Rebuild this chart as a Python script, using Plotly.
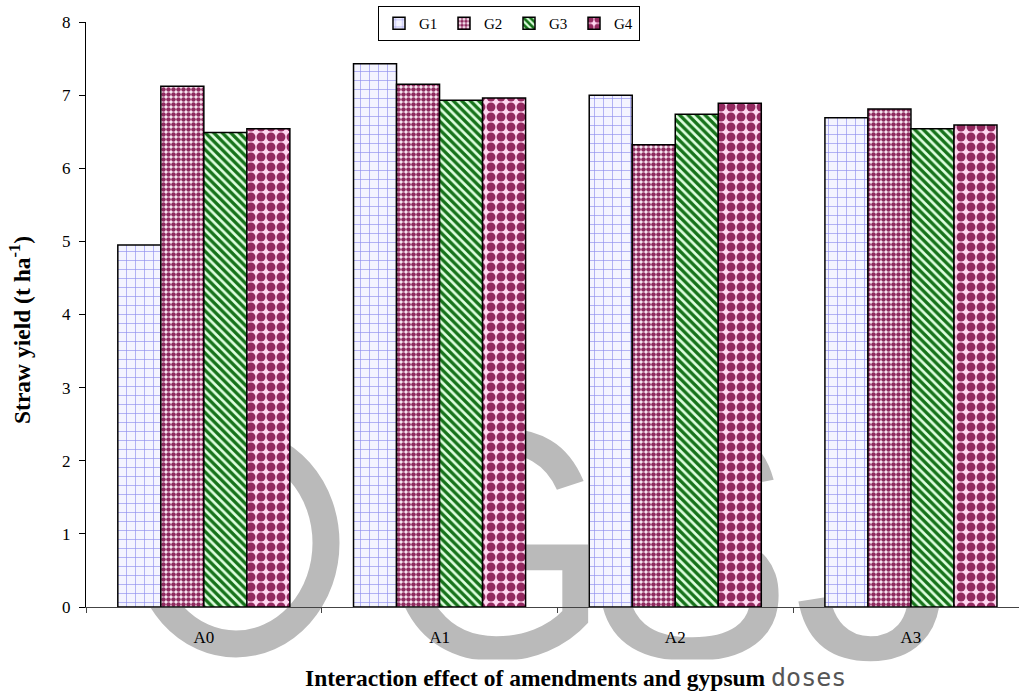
import base64
import plotly.graph_objects as go

# Interaction of amendments (A0-A3) and gypsum doses (G1-G4) on straw yield
amendments = ["A0", "A1", "A2", "A3"]
g1 = [4.95, 7.43, 7.00, 6.69]
g2 = [7.12, 7.15, 6.32, 6.81]
g3 = [6.49, 6.93, 6.74, 6.54]
g4 = [6.54, 6.96, 6.89, 6.59]
y_ticks = [0, 1, 2, 3, 4, 5, 6, 7, 8]

W, H = 1019, 694
L, R, T, B = 86, 0, 22, 87
plot_w = W - L - R
plot_h = H - T - B

SERIF = "Liberation Serif, Times New Roman, serif"

series = [
    ("G1", g1, "#f4f4ff", dict(shape="+", fgcolor="#8f8fee", size=9, solidity=0.14)),
    ("G2", g2, "#fff2fb", dict(shape=".", fgcolor="#8e2a5e", size=5, solidity=0.65)),
    ("G3", g3, "#dfffdf", dict(shape="\\", fgcolor="#16721a", size=6, solidity=0.55)),
    ("G4", g4, "#ffd6f0", dict(shape=".", fgcolor="#93295f", size=10, solidity=0.62)),
]

fig = go.Figure()
for i, (name, vals, bg, pat) in enumerate(series):
    # solid backing so the watermark never shows through a bar
    fig.add_trace(go.Bar(
        x=amendments, y=vals, offsetgroup=str(i), showlegend=False, hoverinfo="skip",
        marker=dict(color=bg, line=dict(width=0)),
    ))
    fig.add_trace(go.Bar(
        name=name, x=amendments, y=vals, offsetgroup=str(i),
        marker=dict(color=bg, pattern=dict(fillmode="overlay", fgopacity=1, **pat),
                    line=dict(color="black", width=1.5)),
    ))


# Grey "GSJ" watermark: one copy inside the plot area (under the bars),
# one copy for the strip below the x axis
def watermark(view_box):
    svg = f'''<svg xmlns="http://www.w3.org/2000/svg" viewBox="{view_box}" preserveAspectRatio="none">
<g fill="#bababa" font-family="Liberation Sans, Arial, sans-serif" font-size="330">
<ellipse cx="236" cy="543" rx="90" ry="101" fill="none" stroke="#bababa" stroke-width="27"/>
<text transform="translate(377,658) scale(0.91,1)">G</text>
<text transform="translate(588,658) scale(0.93,1)">S</text>
<text transform="translate(793,658) scale(1.05,1)">J</text>
</g></svg>'''
    return "data:image/svg+xml;base64," + base64.b64encode(svg.encode()).decode()


fig.add_layout_image(dict(
    source=watermark(f"{L} {T} {plot_w} {plot_h}"), xref="x domain", yref="y domain",
    x=0, y=1, sizex=1, sizey=1, xanchor="left", yanchor="top",
    sizing="stretch", layer="below",
))
fig.add_layout_image(dict(
    source=watermark(f"0 {T + plot_h} {W} {B}"), xref="paper", yref="paper",
    x=-L / plot_w, y=0, sizex=W / plot_w, sizey=B / plot_h,
    xanchor="left", yanchor="top", sizing="stretch", layer="below",
))

fig.update_layout(
    width=W, height=H,
    margin=dict(l=L, r=R, t=T, b=B, pad=0),
    paper_bgcolor="white", plot_bgcolor="rgba(0,0,0,0)",
    barmode="group", bargap=0.27, bargroupgap=0,
    font=dict(family=SERIF, size=17, color="black"),
    showlegend=True,
    legend=dict(
        orientation="h", x=(509 - L) / plot_w, xanchor="center",
        y=1 + (T - 6) / plot_h, yanchor="top",
        bordercolor="black", borderwidth=1, bgcolor="white",
        font=dict(family=SERIF, size=15), entrywidth=20, entrywidthmode="pixels",
        itemwidth=30, tracegroupgap=0,
    ),
    xaxis=dict(
        type="category", range=[-0.5, 3.5 - (L + 4 * 235.7 - W) / 235.7],
        showline=True, linecolor="#444444", linewidth=1.2,
        ticks="outside", tickson="boundaries", ticklen=5, tickcolor="#444444",
        tickfont=dict(family=SERIF, size=17), showgrid=False, zeroline=False,
        ticklabelstandoff=14,
    ),
    yaxis=dict(
        range=[0, 8], tickvals=y_ticks, showline=True, linecolor="black",
        linewidth=1, ticks="outside", ticklen=6, tickcolor="black",
        tickfont=dict(family=SERIF, size=17), showgrid=False, zeroline=False,
        ticklabelstandoff=5,
    ),
    annotations=[
        dict(
            text="<b>Interaction effect of amendments and gypsum</b> "
                 "<span style='font-family:DejaVu Sans Mono; font-size:25px; color:#555555'>doses</span>",
            xref="paper", yref="paper", x=(575 - L) / plot_w, y=-(677 - T - plot_h) / plot_h,
            xanchor="center", yanchor="middle", showarrow=False,
            font=dict(family=SERIF, size=23.5, color="black"),
            bgcolor="white", borderpad=3,
        ),
        dict(
            text="<b>Straw yield (t ha<sup>-1</sup>)</b>",
            xref="paper", yref="paper", x=(20 - L) / plot_w, y=1 - (330 - T) / plot_h,
            xanchor="center", yanchor="middle", textangle=-90, showarrow=False,
            font=dict(family=SERIF, size=23.5, color="black"),
        ),
    ],
)

fig.write_html("out.html")
